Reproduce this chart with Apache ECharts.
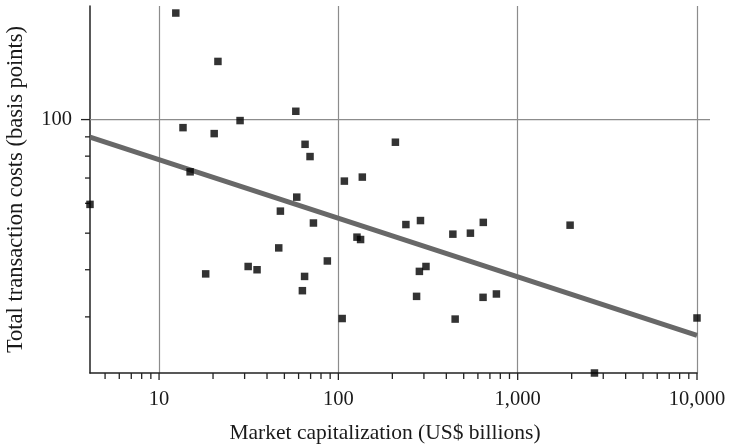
<!DOCTYPE html>
<html>
<head>
<meta charset="utf-8">
<script src="https://cdn.jsdelivr.net/npm/echarts@6/dist/echarts.min.js"></script>
<style>
  html, body { margin: 0; padding: 0; background: #fff; }
  #chart { width: 731px; height: 445px; }
</style>
</head>
<body>
<div id="chart"></div>
<script>
// Market capitalization (US$ billions) and total transaction cost (bps) per market
const marketCap = [12.4, 21.3, 13.6, 20.3, 28.3, 14.9, 4.12, 18.2, 31.4, 35.2,
                   57.9, 65.2, 69.5, 208, 108, 136, 58.6, 47.5, 72.6, 238,
                   287, 643, 46.5, 86.8, 64.8, 63.0, 105, 127, 133, 435,
                   545, 283, 308, 273, 448, 641, 1960, 761, 10000, 2680];
const costBps   = [191.6, 142.6, 95.2, 91.8, 99.4, 72.7, 59.6, 39.0, 40.8, 40.0,
                   105.2, 86.0, 79.8, 87.1, 68.7, 70.4, 62.3, 57.2, 53.2, 52.7,
                   54.0, 53.4, 45.7, 42.2, 38.4, 35.2, 29.7, 48.8, 48.1, 49.7,
                   50.0, 39.6, 40.8, 34.0, 29.6, 33.8, 52.5, 34.5, 29.8, 21.3];

// Fitted log-log trend line end points
const trendCap  = [4.12, 10000];
const trendCost = [89.9, 26.8];

// Axis ranges and tick positions
const xRange = [4.12, 10000];
const yRange = [21.3, 200];
const xMajorTicks = [10, 100, 1000, 10000];
const xMinorTicks = [5, 6, 7, 8, 9,
                     20, 30, 40, 50, 60, 70, 80, 90,
                     200, 300, 400, 500, 600, 700, 800, 900,
                     2000, 3000, 4000, 5000, 6000, 7000, 8000, 9000];
const yMajorTicks = [100];
const yMinorTicks = [30, 40, 50, 60, 70, 80, 90];

const FONT = 'Liberation Serif';
const INK = '#1a1a1a';
const AXIS = '#222';
const GRID = '#8c8c8c';

function withCommas(v) {
  return String(Math.round(v)).replace(/\B(?=(\d{3})+(?!\d))/g, ',');
}

// Short tick below the x axis at each data value
function xTick(len) {
  return function (params, api) {
    const cs = params.coordSys;
    const x = api.coord([api.value(0), 100])[0];
    const y0 = cs.y + cs.height;
    return {
      type: 'line',
      shape: { x1: x, y1: y0, x2: x, y2: y0 + len },
      style: { stroke: AXIS, lineWidth: 1.3 }
    };
  };
}

// Short tick left of the y axis at each data value
function yTick(len) {
  return function (params, api) {
    const cs = params.coordSys;
    const y = api.coord([10, api.value(1)])[1];
    return {
      type: 'line',
      shape: { x1: cs.x - len, y1: y, x2: cs.x, y2: y },
      style: { stroke: AXIS, lineWidth: 1.3 }
    };
  };
}

// Horizontal reference line at the major y value, running a little past the plot
function yGridLine(params, api) {
  const cs = params.coordSys;
  const y = api.coord([10, api.value(1)])[1];
  return {
    type: 'line',
    shape: { x1: cs.x, y1: y, x2: cs.x + cs.width + 13, y2: y },
    style: { stroke: GRID, lineWidth: 1.2 }
  };
}

const chart = echarts.init(document.getElementById('chart'), null, { renderer: 'canvas' });

chart.setOption({
  animation: false,
  backgroundColor: '#fff',
  grid: { left: 90, right: 34, top: 6, bottom: 72, containLabel: false, outerBoundsMode: 'none' },
  xAxis: {
    type: 'log',
    logBase: 10,
    min: xRange[0],
    max: xRange[1],
    name: 'Market capitalization (US$ billions)',
    nameLocation: 'middle',
    nameGap: 49,
    nameTextStyle: { fontFamily: FONT, fontSize: 21.5, color: INK, padding: [0, 17, 0, 0] },
    axisLine: { show: true, lineStyle: { color: AXIS, width: 1.5 } },
    axisTick: { show: false },
    axisLabel: {
      fontFamily: FONT, fontSize: 20.5, color: INK, margin: 16,
      showMinLabel: false, showMaxLabel: true,
      formatter: withCommas
    },
    splitLine: { show: true, showMinLine: false, showMaxLine: true, lineStyle: { color: GRID, width: 1.2 } },
    minorTick: { show: false },
    minorSplitLine: { show: false }
  },
  yAxis: {
    type: 'log',
    logBase: 10,
    min: yRange[0],
    max: yRange[1],
    name: 'Total transaction costs (basis points)',
    nameLocation: 'middle',
    nameGap: 62,
    nameTextStyle: { fontFamily: FONT, fontSize: 22.5, color: INK },
    axisLine: { show: true, lineStyle: { color: AXIS, width: 1.5 } },
    axisTick: { show: false },
    axisLabel: {
      fontFamily: FONT, fontSize: 20.5, color: INK, margin: 18,
      showMinLabel: false, showMaxLabel: false
    },
    splitLine: { show: false }
  },
  series: [
    {
      type: 'custom',
      silent: true,
      clip: false,
      z: 1,
      renderItem: yGridLine,
      data: yMajorTicks.map(v => [10, v])
    },
    {
      type: 'custom',
      silent: true,
      clip: false,
      z: 3,
      renderItem: xTick(7),
      data: xMajorTicks.map(v => [v, 100])
    },
    {
      type: 'custom',
      silent: true,
      clip: false,
      z: 3,
      renderItem: xTick(6),
      data: xMinorTicks.map(v => [v, 100])
    },
    {
      type: 'custom',
      silent: true,
      clip: false,
      z: 3,
      renderItem: yTick(9),
      data: yMajorTicks.map(v => [10, v])
    },
    {
      type: 'custom',
      silent: true,
      clip: false,
      z: 3,
      renderItem: yTick(5),
      data: yMinorTicks.map(v => [10, v])
    },
    {
      type: 'line',
      silent: true,
      showSymbol: false,
      z: 4,
      lineStyle: { color: '#686868', width: 5 },
      data: trendCap.map((x, i) => [x, trendCost[i]])
    },
    {
      type: 'scatter',
      silent: true,
      clip: false,
      z: 5,
      symbol: 'rect',
      symbolSize: 7.5,
      itemStyle: { color: '#000' },
      data: marketCap.map((x, i) => [x, costBps[i]])
    }
  ]
});
</script>
</body>
</html>
